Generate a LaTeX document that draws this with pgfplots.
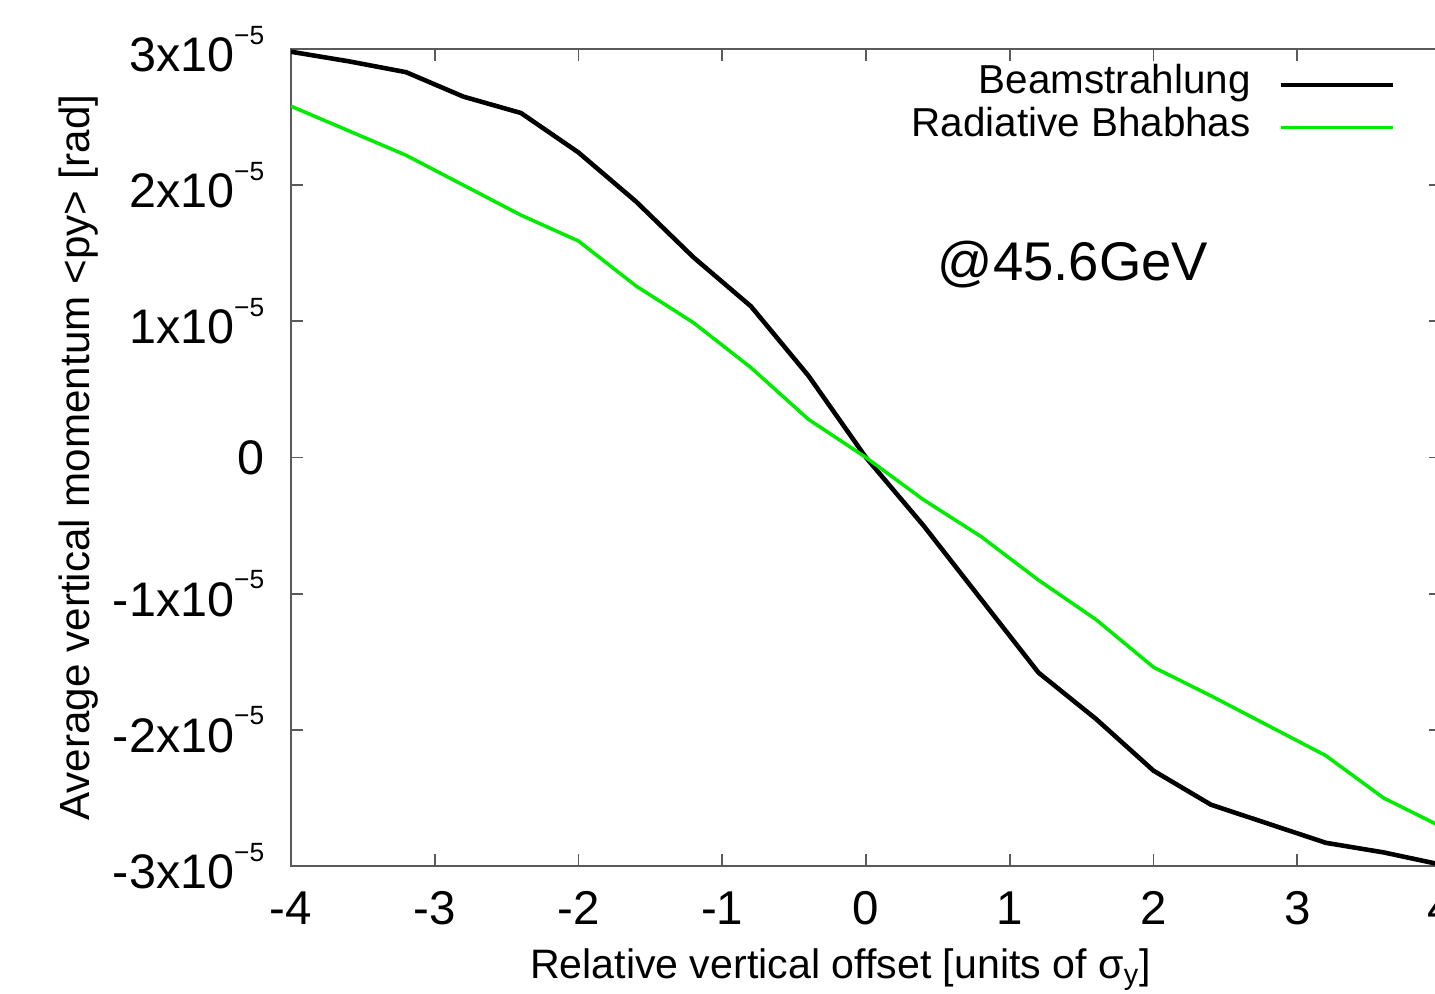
\documentclass[border=0pt]{standalone}
\usepackage{fontspec}
\setmainfont{Liberation Sans}
\usepackage{pgfplots}
\pgfplotsset{compat=1.18}
\definecolor{gpgreen}{RGB}{0,235,0}
\definecolor{axgray}{RGB}{90,90,90}
\newcommand{\sci}[1]{#1x10\raisebox{0.57em}{\fontsize{7.5}{8}\selectfont −5}}
\begin{document}
\begin{tikzpicture}
\useasboundingbox (0,0) rectangle (14.35cm,9.93cm);
\clip (0,0) rectangle (14.35cm,9.93cm);
\begin{axis}[
  at={(2.91cm,1.27cm)}, anchor=south west,
  scale only axis, width=11.5cm, height=8.17cm,
  xmin=-4, xmax=4, ymin=-3, ymax=3,
  axis line style={axgray, line width=0.6pt},
  tick style={axgray, line width=0.5pt},
  tick align=inside, major tick length=0.12cm,
  xtick pos=both, ytick pos=both,
  xtick={-4,-3,-2,-1,0,1,2,3,4},
  xticklabels={-4,-3,-2,-1,0,1,2,3,4},
  ytick={-3,-2,-1,0,1,2,3},
  yticklabels={\sci{-3},\sci{-2},\sci{-1},0,\sci{1},\sci{2},\sci{3}},
  xticklabel style={font=\fontsize{13.5}{16}\selectfont, inner sep=0pt, anchor=north, yshift=-0.25cm},
  yticklabel style={font=\fontsize{13.8}{16}\selectfont, inner sep=0pt, anchor=east, xshift=-0.26cm},
  xlabel={Relative vertical offset [units of σ\textsubscript{y}]},
  xlabel style={at={(axis description cs:0.478,0)}, anchor=base, yshift=-1.12cm, font=\fontsize{11.7}{13}\selectfont, inner sep=0pt},
  ylabel={Average vertical momentum <py> [rad]},
  ylabel style={at={(axis description cs:-0.175,0.5)}, anchor=base, font=\fontsize{12}{13}\selectfont, inner sep=0pt},
  legend plot pos=right,
  legend cell align=right,
  legend image code/.code={\draw[#1] (0cm,0cm) -- (1.12cm,0cm);},
  legend style={draw=none, fill=none, at={(rel axis cs:0.9609,0.9785)}, anchor=north east,
    inner sep=0pt, font=\fontsize{11.5}{13}\selectfont, column sep=0.28cm, row sep=2.2pt,
    nodes={inner sep=0pt, text height=0.75em, text depth=0.25em}},
]
\addplot[black, line width=1.3pt] coordinates {
(-4,2.98) (-3.6,2.91) (-3.2,2.83) (-2.8,2.65) (-2.4,2.53) (-2.0,2.24) (-1.6,1.88)
(-1.2,1.47) (-0.8,1.11) (-0.4,0.60) (0,0.0) (0.4,-0.50) (0.8,-1.04) (1.2,-1.58)
(1.6,-1.92) (2.0,-2.30) (2.4,-2.55) (2.8,-2.69) (3.2,-2.83) (3.6,-2.90) (4.0,-2.99)
};
\addlegendentry{Beamstrahlung}
\addplot[gpgreen, line width=1pt] coordinates {
(-4,2.58) (-3.6,2.40) (-3.2,2.22) (-2.8,2.00) (-2.4,1.78) (-2.0,1.59) (-1.6,1.26)
(-1.2,0.99) (-0.8,0.66) (-0.4,0.28) (0,0.0) (0.4,-0.31) (0.8,-0.58) (1.2,-0.90)
(1.6,-1.19) (2.0,-1.54) (2.4,-1.75) (2.8,-1.97) (3.2,-2.19) (3.6,-2.50) (4.0,-2.71)
};
\addlegendentry{Radiative Bhabhas}
\node[anchor=base west, font=\fontsize{15.5}{19}\selectfont, inner sep=0pt] at (axis cs:0.494,1.30) {@45.6GeV};
\end{axis}
\end{tikzpicture}
\end{document}
